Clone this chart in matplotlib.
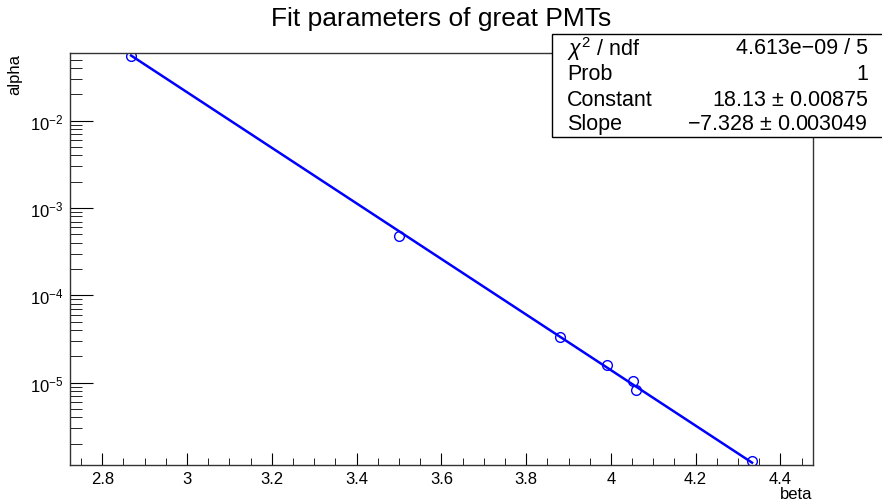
import numpy as np
import matplotlib
matplotlib.use("Agg")
import matplotlib.pyplot as plt
from matplotlib.ticker import MultipleLocator, LogLocator
from matplotlib.patches import Rectangle

plt.rcParams['font.family'] = ['Liberation Sans', 'DejaVu Sans']
plt.rcParams['mathtext.fontset'] = 'custom'
plt.rcParams['mathtext.rm'] = 'Liberation Sans'
plt.rcParams['mathtext.it'] = 'Liberation Sans:italic'

# data points
beta = [2.868, 3.501, 3.880, 3.991, 4.051, 4.060, 4.333]
alpha = [5.55e-2, 4.74e-4, 3.30e-5, 1.58e-5, 1.05e-5, 8.3e-6, 1.28e-6]

# fit result: alpha = exp(const + slope * beta)
fit_const = 18.13
fit_slope = -7.328

stat_labels = [r"$\chi^{2}$ / ndf", "Prob", "Constant", "Slope"]
stat_values = ["4.613e\u221209 / 5", "1", "18.13 $\\pm$ 0.00875", "\u22127.328 $\\pm$ 0.003049"]

fig = plt.figure(figsize=(8.82, 5.02), dpi=100)
ax = fig.add_axes([0.0794, 0.0717, 0.842, 0.8207])

xf = np.linspace(min(beta), max(beta), 200)
ax.plot(xf, np.exp(fit_const + fit_slope * xf), color="#0000ff", lw=1.8)
ax.plot(beta, alpha, "o", mfc="none", mec="#0000ff", ms=7, mew=1.0)

ax.set_yscale("log")
ax.set_xlim(2.724, 4.476)
ax.set_ylim(10 ** -5.943, 10 ** -1.225)

ax.xaxis.set_major_locator(MultipleLocator(0.2))
ax.xaxis.set_minor_locator(MultipleLocator(0.05))
ax.yaxis.set_major_locator(LogLocator(base=10))
ax.yaxis.set_minor_locator(LogLocator(base=10, subs=np.arange(2, 10)))
ax.xaxis.set_major_formatter(plt.FuncFormatter(lambda v, p: f"{v:g}"))

ax.tick_params(axis="both", which="both", direction="in", top=False, right=False,
               labelsize=12, color="black")
ax.tick_params(axis="x", which="major", length=9, pad=4)
ax.tick_params(axis="x", which="minor", length=5)
ax.tick_params(axis="y", which="major", length=16.5, pad=5)
ax.tick_params(axis="y", which="minor", length=8.5)
ax.tick_params(axis="y", which="minor", labelleft=False)

for s in ax.spines.values():
    s.set_color("#333333")
    s.set_linewidth(1.0)

ax.set_xlabel("beta", fontsize=12, loc="right", labelpad=0)
ax.set_ylabel("alpha", fontsize=12, loc="top", labelpad=5)

fig.text(0.5, 0.962, "Fit parameters of great PMTs", ha="center", va="center", fontsize=19)

# stats box
box = Rectangle((0.6259, 0.7251), 0.38, 0.2052, transform=fig.transFigure,
                facecolor="white", edgecolor="black", lw=1.0, zorder=5)
fig.patches.append(box)
rows_y = [0.903, 0.851, 0.799, 0.751]
for lab, val, yy in zip(stat_labels, stat_values, rows_y):
    fig.text(0.643, yy, lab, ha="left", va="center", fontsize=15.5, zorder=6)
    fig.text(0.984, yy, val, ha="right", va="center", fontsize=15.5, zorder=6)

fig.savefig("out.png", dpi=100)
